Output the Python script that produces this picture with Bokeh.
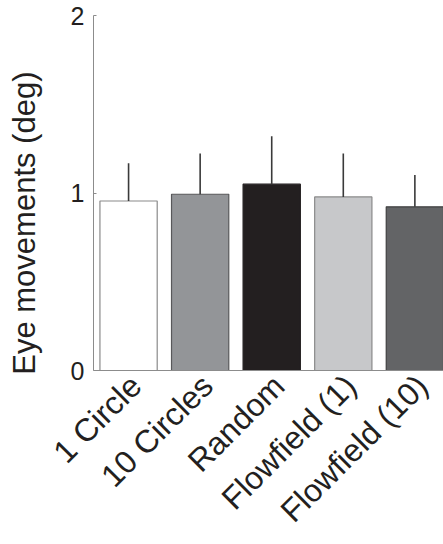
import math
from bokeh.plotting import figure
from bokeh.models import Range1d, FixedTicker, ColumnDataSource, CustomJSTickFormatter
from bokeh.embed import file_html
from bokeh.resources import INLINE

categories = ["1 Circle", "10 Circles", "Random", "Flowfield (1)", "Flowfield (10)"]
means = [0.955, 0.993, 1.050, 0.978, 0.922]
errors = [0.213, 0.230, 0.270, 0.245, 0.179]
colors = ["#ffffff", "#939598", "#231f20", "#c7c8ca", "#636466"]
outlines = ["#8a8a8a", "#58585a", "#231f20", "#8a8a8a", "#404041"]
y_ticks = [0, 1, 2]
y_label = "Eye movements (deg)"

xs = list(range(1, len(categories) + 1))
upper = [m + e for m, e in zip(means, errors)]
src = ColumnDataSource(dict(x=xs, top=means, upper=upper, fill=colors, line=outlines))

FONT = "Liberation Sans"
LABEL_SHIFT = 0.1  # label anchor shift (ticks are invisible)

p = figure(width=443, height=544, output_backend="svg", toolbar_location=None,
           x_range=Range1d(0.51, 5.4), y_range=Range1d(0, 2),
           min_border_left=93, min_border_right=0, min_border_top=15,
           min_border_bottom=170)
p.outline_line_color = None
p.grid.visible = False
p.background_fill_color = "white"
p.border_fill_color = "white"

p.vbar(x="x", top="top", bottom=0, width=0.8, source=src,
       fill_color="fill", line_color="line", line_width=1.2)
p.segment(x0="x", y0="top", x1="x", y1="upper", source=src,
          line_color="#3a3a3a", line_width=1.6)

yax = p.yaxis[0]
yax.ticker = FixedTicker(ticks=y_ticks)
yax.axis_line_color = "#8c8c8c"
yax.axis_line_width = 1
yax.major_tick_line_color = "#8c8c8c"
yax.major_tick_in = 3
yax.major_tick_out = 0
yax.minor_tick_line_color = None
yax.major_label_text_font = FONT
yax.major_label_text_font_size = "25px"
yax.major_label_text_color = "#231f20"
yax.major_label_standoff = 9
# trailing no-break spaces move the centred title down so it starts at the baseline
yax.axis_label = y_label + "\u00a0" * 7
yax.axis_label_text_font = FONT
yax.axis_label_text_font_size = "31px"
yax.axis_label_text_font_style = "normal"
yax.axis_label_text_color = "#231f20"
yax.axis_label_standoff = 26

xax = p.xaxis[0]
xax.ticker = FixedTicker(ticks=[x + LABEL_SHIFT for x in xs])
xax.formatter = CustomJSTickFormatter(args=dict(cats=categories, shift=LABEL_SHIFT),
                                      code="return cats[Math.round(tick - shift) - 1];")
xax.major_label_orientation = math.pi / 4
xax.axis_line_color = "#8c8c8c"
xax.major_tick_line_color = None
xax.minor_tick_line_color = None
xax.major_label_text_font = FONT
xax.major_label_text_font_size = "32px"
xax.major_label_text_line_height = 0.9
xax.major_label_text_color = "#231f20"
xax.major_label_standoff = 4

open("out.html", "w").write(file_html(p, INLINE))
